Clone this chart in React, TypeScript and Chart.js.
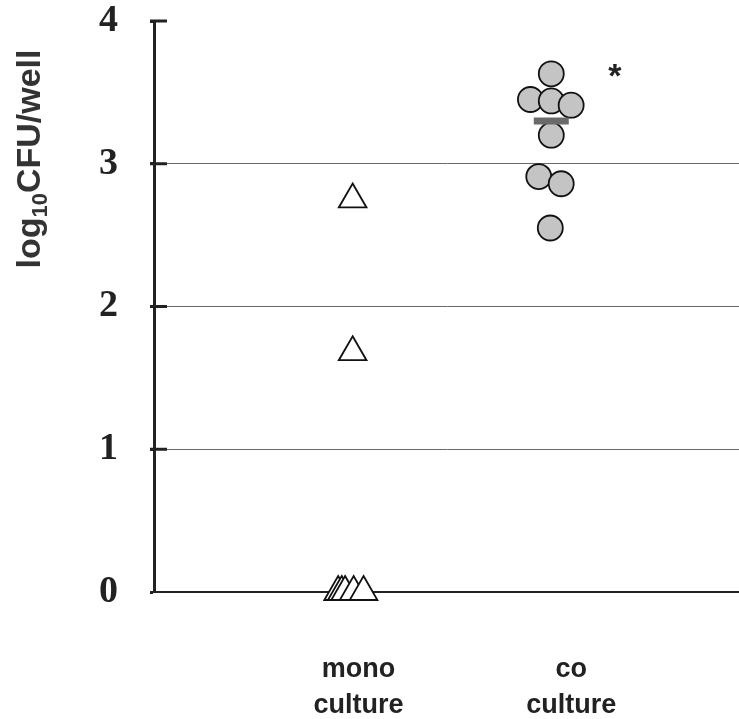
import { useEffect, useRef } from "react";
import { Chart, registerables } from "chart.js";

Chart.register(...registerables);

// ---- data ----
const categoryLabels: string[][] = [
  ["mono", "culture"],
  ["co", "culture"],
];
const categoryLabelX = [1.03, 2.1];
const yTickValues = [0, 1, 2, 3, 4];

const monoX = [1.0, 1.0, 0.927, 0.945, 0.962, 1.005, 1.055];
const monoY = [2.75, 1.68, 0, 0, 0, 0, 0];

const coX = [2.0, 1.895, 2.0, 2.1, 2.0, 1.937, 2.05, 1.995];
const coY = [3.63, 3.45, 3.44, 3.41, 3.2, 2.91, 2.86, 2.55];

const coMeanX = [2.0];
const coMeanY = [3.3];

const asteriskAt = { x: 2.32, y: 3.54, text: "*" };
const yTitleParts = ["log", "10", "CFU/well"];

const SANS = "'Liberation Sans', Arial, sans-serif";
const SERIF = "'Liberation Serif', 'Times New Roman', serif";

const zeroPadding = (scale: any) => {
  scale.paddingTop = 0;
  scale.paddingBottom = 0;
  scale.paddingLeft = 0;
  scale.paddingRight = 0;
};

const extrasPlugin = {
  id: "extras",
  afterDraw(chart: any) {
    const ctx = chart.ctx;
    const xs = chart.scales.x;
    const ys = chart.scales.y;
    const left = chart.chartArea.left;
    ctx.save();
    // inner short ticks on the y axis
    ctx.strokeStyle = "#222";
    ctx.lineWidth = 3;
    yTickValues.forEach((v) => {
      if (v === 0) return;
      const py = ys.getPixelForValue(v);
      ctx.beginPath();
      ctx.moveTo(left - 4, py);
      ctx.lineTo(left + 13, py);
      ctx.stroke();
    });
    // asterisk
    ctx.fillStyle = "#222";
    ctx.font = `bold 34px ${SANS}`;
    ctx.textAlign = "center";
    ctx.textBaseline = "alphabetic";
    ctx.fillText(asteriskAt.text, xs.getPixelForValue(asteriskAt.x), ys.getPixelForValue(asteriskAt.y));
    // y title (rotated, with subscript)
    const big = `bold 34px ${SANS}`;
    const small = `bold 22px ${SANS}`;
    ctx.font = big;
    const w0 = ctx.measureText(yTitleParts[0]).width;
    const w2 = ctx.measureText(yTitleParts[2]).width;
    ctx.font = small;
    const w1 = ctx.measureText(yTitleParts[1]).width;
    const total = w0 + w1 + w2;
    ctx.translate(40, 159);
    ctx.rotate(-Math.PI / 2);
    ctx.textAlign = "left";
    ctx.fillStyle = "#333";
    let cx = -total / 2;
    ctx.font = big;
    ctx.fillText(yTitleParts[0], cx, 0);
    cx += w0;
    ctx.font = small;
    ctx.fillText(yTitleParts[1], cx, 7);
    cx += w1;
    ctx.font = big;
    ctx.fillText(yTitleParts[2], cx, 0);
    ctx.restore();
  },
};

export default function App() {
  const ref = useRef<HTMLCanvasElement | null>(null);

  useEffect(() => {
    if (!ref.current) return;
    const chart = new Chart(ref.current, {
      type: "scatter",
      data: {
        datasets: [
          {
            label: "co mean",
            data: coMeanX.map((x, i) => ({ x, y: coMeanY[i] })),
            pointStyle: "line",
            pointRadius: 17.5,
            borderWidth: 7,
            borderColor: "#6a6a6a",
            backgroundColor: "#6a6a6a",
            clip: false,
          } as any,
          {
            label: "co culture",
            data: coX.map((x, i) => ({ x, y: coY[i] })),
            pointStyle: "circle",
            pointRadius: 12.5,
            borderWidth: 1.8,
            borderColor: "#111",
            backgroundColor: "#c4c4c4",
            clip: false,
          } as any,
          {
            label: "mono culture",
            data: monoX.map((x, i) => ({ x, y: monoY[i] })),
            pointStyle: "triangle",
            pointRadius: 16,
            borderWidth: 1.8,
            borderColor: "#111",
            backgroundColor: "#fff",
            clip: false,
          } as any,
        ],
      },
      options: {
        animation: false,
        responsive: false,
        layout: { autoPadding: false, padding: { top: 21, right: 0, left: 0, bottom: 0 } },
        plugins: { legend: { display: false }, tooltip: { enabled: false } },
        scales: {
          x: {
            type: "linear",
            min: 0,
            max: 2.945,
            afterBuildTicks: (scale: any) => {
              scale.ticks = categoryLabelX.map((v) => ({ value: v }));
            },
            afterFit: (scale: any) => {
              scale.height = 127;
              zeroPadding(scale);
            },
            grid: { display: false, drawTicks: false },
            border: { display: true, color: "#222", width: 2 },
            ticks: {
              autoSkip: false,
              maxRotation: 0,
              padding: 60,
              color: "#222",
              font: { family: SANS, size: 27, weight: "bold", lineHeight: 1.32 },
              callback: (_v: any, i: number) => categoryLabels[i],
            },
          },
          y: {
            type: "linear",
            min: 0,
            max: 4,
            afterBuildTicks: (scale: any) => {
              scale.ticks = yTickValues.map((v) => ({ value: v }));
            },
            afterFit: (scale: any) => {
              scale.width = 154;
              zeroPadding(scale);
            },
            grid: {
              color: (c: any) =>
                c.tick && c.tick.value > 0 && c.tick.value < 4 ? "#6a6a6a" : "rgba(0,0,0,0)",
              lineWidth: 1,
              drawTicks: true,
              tickLength: 4,
              tickColor: "#222",
              tickWidth: 3,
            },
            border: { display: true, color: "#222", width: 3 },
            ticks: {
              padding: 32,
              color: "#222",
              font: { family: SERIF, size: 38, weight: "bold", lineHeight: 1.0 },
            },
          },
        },
      },
      plugins: [extrasPlugin],
    } as any);
    return () => chart.destroy();
  }, []);

  return (
    <div style={{ position: "absolute", left: 0, top: 0, width: 739, height: 719, background: "#fff" }}>
      <canvas ref={ref} width={739} height={719} />
    </div>
  );
}
